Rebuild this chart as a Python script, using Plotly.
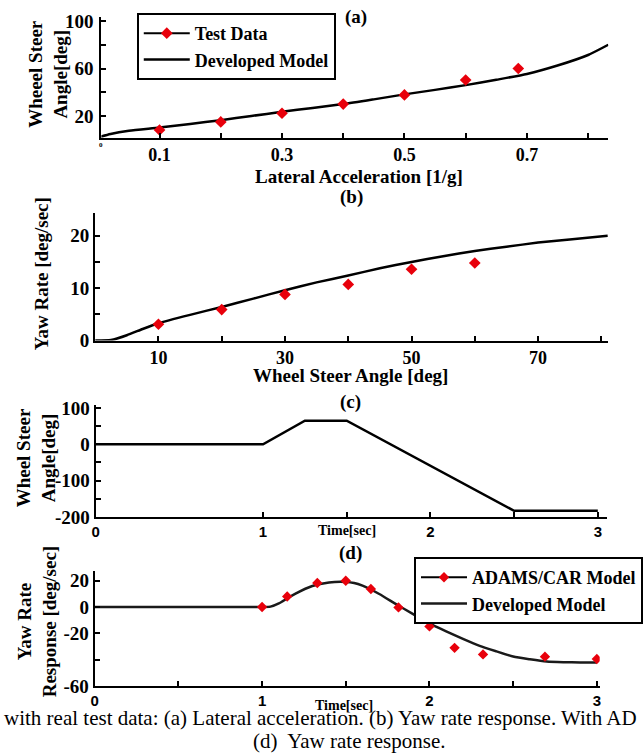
import plotly.graph_objects as go

W, H = 643, 755
SERIF = "Liberation Serif, Times New Roman, serif"
SANS = "Liberation Sans, Arial, sans-serif"
RED = "#e8000b"

# (a) wheel steer angle vs lateral acceleration
accel_model = [0, 0.02, 0.05, 0.1, 0.15, 0.2, 0.25, 0.3, 0.35, 0.4, 0.45, 0.5,
               0.55, 0.6, 0.65, 0.7, 0.75, 0.8, 0.833]
steer_model = [2, 4.8, 7.5, 10.2, 13.3, 16.5, 20, 23.5, 26.8, 30, 34, 38.2,
               42, 46, 50.5, 55.4, 62.5, 71.4, 80]
accel_test = [0.1, 0.2, 0.3, 0.4, 0.5, 0.6, 0.686]
steer_test = [8.2, 15, 22.3, 30, 37.7, 50.3, 60]

# (b) yaw rate vs wheel steer angle
angle_model = [0, 2.5, 5, 7.5, 10, 15, 20, 25, 30, 35, 40, 45, 50, 55, 60, 65, 70, 75, 81]
yaw_model = [0, 0.1, 1.0, 2.2, 3.3, 4.9, 6.4, 8.0, 9.6, 11.1, 12.4, 13.8, 15.0,
             16.1, 17.1, 17.9, 18.7, 19.3, 20.0]
angle_test = [10, 20, 30, 40, 50, 60]
yaw_test = [3.1, 5.9, 8.8, 10.7, 13.6, 14.8]

# (c) steering input over time
time_input = [0, 1.0, 1.25, 1.5, 2.5, 3.0]
steer_input = [0, 0, 65, 65, -183, -183]

# (d) yaw rate response over time
time_model = [0, 1.0, 1.05, 1.1, 1.15, 1.2, 1.3, 1.4, 1.5, 1.55, 1.6, 1.7, 1.8,
              1.9, 2.0, 2.1, 2.2, 2.3, 2.4, 2.5, 2.6, 2.7, 2.8, 2.9, 3.0]
resp_model = [0, 0, 0.3, 2.8, 6.5, 10.2, 16, 18.7, 19.1, 18.3, 16.2, 9.9, 2.2,
              -5.2, -12.5, -18.5, -24.2, -29.5, -33.7, -37.6, -39.7, -41.4,
              -41.9, -42.1, -42.1]
time_adams = [1.0, 1.15, 1.33, 1.5, 1.65, 1.815, 2.0, 2.15, 2.32, 2.69, 3.0]
resp_adams = [0, 8, 18.2, 20, 13.7, -0.3, -14.7, -31, -36, -37.7, -39.5]


def fx(px):
    return px / W


def fy(py):
    return 1 - py / H


def gapped(xs, ys):
    # markers only on the plot, but line+marker sample in the legend
    gx, gy = [], []
    for x, y in zip(xs, ys):
        gx += [x, None]
        gy += [y, None]
    return gx, gy


def axis(domain, rng, tickvals, ticktext, anchor, font, standoff=0):
    return dict(
        domain=domain, range=rng, anchor=anchor, automargin=False,
        tickvals=tickvals, ticktext=ticktext,
        showline=True, linecolor="black", linewidth=2,
        ticks="inside", ticklen=5, tickwidth=1.5, tickcolor="black",
        showgrid=False, zeroline=False, mirror=False,
        tickfont=font, ticklabelstandoff=standoff,
    )


bold_serif = dict(family=SERIF, size=19, color="black", weight="bold")
bold_serif_x = dict(family=SERIF, size=18, color="black", weight="bold")
bold_sans = dict(family=SANS, size=15, color="black", weight="bold")

fig = go.Figure()

fig.add_trace(go.Scatter(
    x=accel_model, y=steer_model, mode="lines", name="Developed Model",
    line={"color": "black", "width": 2.5, "shape": "spline", "smoothing": 0.6},
    xaxis="x", yaxis="y", legend="legend", legendrank=2,
))
gx, gy = gapped(accel_test, steer_test)
fig.add_trace(go.Scatter(
    x=gx, y=gy, mode="lines+markers", name="Test Data",
    line={"color": "black", "width": 2},
    marker={"symbol": "diamond", "size": 9, "color": RED},
    xaxis="x", yaxis="y", legend="legend", legendrank=1,
))

fig.add_trace(go.Scatter(
    x=angle_model, y=yaw_model, mode="lines", showlegend=False,
    line={"color": "black", "width": 2.5, "shape": "spline", "smoothing": 0.5},
    xaxis="x2", yaxis="y2",
))
fig.add_trace(go.Scatter(
    x=angle_test, y=yaw_test, mode="markers", showlegend=False,
    marker={"symbol": "diamond", "size": 9, "color": RED},
    xaxis="x2", yaxis="y2",
))

fig.add_trace(go.Scatter(
    x=time_input, y=steer_input, mode="lines", showlegend=False,
    line={"color": "black", "width": 2.5},
    xaxis="x3", yaxis="y3",
))

fig.add_trace(go.Scatter(
    x=time_model, y=resp_model, mode="lines", name="Developed Model",
    line={"color": "#1a1a1a", "width": 2.5, "shape": "spline", "smoothing": 0.6},
    xaxis="x4", yaxis="y4", legend="legend2", legendrank=2,
))
gx, gy = gapped(time_adams, resp_adams)
fig.add_trace(go.Scatter(
    x=gx, y=gy, mode="lines+markers", name="ADAMS/CAR Model",
    line={"color": "black", "width": 2},
    marker={"symbol": "diamond", "size": 8, "color": RED},
    xaxis="x4", yaxis="y4", legend="legend2", legendrank=1,
))

legend_style = dict(
    xanchor="left", yanchor="top", bordercolor="black", borderwidth=2,
    bgcolor="white", itemwidth=46, tracegroupgap=0,
    font=dict(family=SERIF, size=18, color="black", weight="bold"),
)

annotations = []


def note(text, x, y, size=19, bold=True, family=SERIF, angle=0, xanchor="center"):
    annotations.append(dict(
        text=text, x=fx(x), y=fy(y), xref="paper", yref="paper",
        showarrow=False, textangle=angle, xanchor=xanchor, yanchor="middle",
        font=dict(family=family, size=size, color="black",
                  weight="bold" if bold else "normal"),
    ))


note("(a)", 372, 17)
note("Lateral Acceleration [1/g]", 375, 176)
note("Wheeel Steer<br>Angle[deg]", 50, 74, angle=-90)
note("0", 106, 145, size=7)
note("(b)", 368, 197)
note("Wheel Steer Angle [deg]", 366, 375)
note("Yaw Rate [deg/sec]", 43, 274, angle=-90)
note("(c)", 366, 402)
note("Time[sec]", 363, 530, size=14)
note("Wheel Steer<br>Angle[deg]", 38, 458, angle=-90)
note("(d)", 366, 553)
note("Time[sec]", 360, 705, size=14)
note("Yaw Rate<br>Response [deg/sec]", 39, 622, angle=-90)
note("with real test data: (a) Lateral acceleration. (b) Yaw rate response. With AD",
     2, 718, size=21, bold=False, xanchor="left")
note("(d)&nbsp; Yaw rate response.", 262, 741, size=21, bold=False, xanchor="left")

fig.update_layout(
    width=W, height=H, autosize=False,
    margin=dict(l=0, r=0, t=0, b=0),
    paper_bgcolor="white", plot_bgcolor="white",
    font=dict(family=SERIF, color="black"),
    xaxis=axis([fx(106), fx(636)], [0.005, 0.833],
               [0.1, 0.2, 0.3, 0.4, 0.5, 0.6, 0.7, 0.8],
               ["0.1", "", "0.3", "", "0.5", "", "0.7", ""], "y", bold_serif_x),
    yaxis=axis([fy(137.7), fy(17)], [1.7, 103.4], [20, 40, 60, 80, 100],
               ["20", "", "60", "", "100"], "x", bold_serif, 2),
    xaxis2=axis([fx(99.5), fx(636)], [0, 81.1], [10, 20, 30, 40, 50, 60, 70, 80],
                ["10", "", "30", "", "50", "", "70", ""], "y2", bold_serif_x),
    yaxis2=axis([fy(340.5), fy(212.7)], [0, 24.4], [0, 5, 10, 15, 20],
                ["0", "", "10", "", "20"], "x2", bold_serif),
    xaxis3=axis([fx(100), fx(635)], [0, 3.057], [0, 1, 1.5, 2, 2.5, 3],
                ["0", "1", "", "2", "", "3"], "y3", bold_sans),
    yaxis3=axis([fy(517), fy(405)], [-200, 108], [-200, -150, -100, -50, 0, 50, 100],
                ["-200", "", "-100", "", "0", "", "100"], "x3", bold_serif),
    xaxis4=axis([fx(99), fx(627)], [0, 3.017], [0, 0.5, 1, 1.5, 2, 2.5, 3],
                ["0", "", "1", "", "2", "", "3"], "y4", bold_sans),
    yaxis4=axis([fy(686), fy(570.7)], [-60, 27.6], [-60, -40, -20, 0, 20],
                ["-60", "", "-20", "0", "20"], "x4", bold_serif),
    legend=dict(x=fx(143), y=fy(13), **legend_style),
    legend2=dict(x=fx(433), y=fy(557), **legend_style),
    annotations=annotations,
)

# drop the browser's default 8px body margin so the figure fills the window
fig.write_html(
    "out.html",
    config={"displayModeBar": False},
    post_script="document.body.style.margin = '0';",
)
